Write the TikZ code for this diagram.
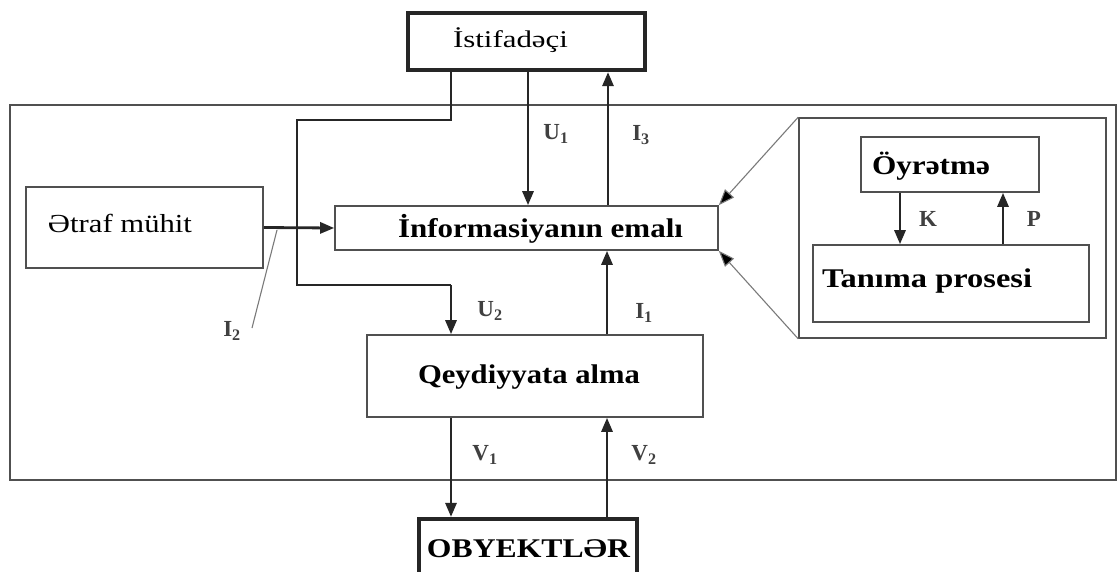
\documentclass[tikz,border=0pt]{standalone}
\usepackage{fontspec}
\setmainfont{Liberation Serif}
\usetikzlibrary{arrows.meta}
\definecolor{boxgray}{HTML}{505050}
\definecolor{linegray}{HTML}{262626}
\definecolor{thingray}{HTML}{7A7A7A}
\newcommand{\fitto}[3]{\resizebox{#1pt}{\height}{\fontsize{#2}{#2}\selectfont #3}}
\begin{document}
\begin{tikzpicture}[x=1pt,y=-1pt,
  box/.style={draw=boxgray, line width=1.6pt, inner sep=0pt, fill=white},
  thickbox/.style={draw=black!85, line width=4.2pt, inner sep=0pt, fill=white},
  frame/.style={draw=boxgray, line width=1.5pt},
  txt/.style={inner sep=0pt, anchor=base, text=black},
  lbl/.style={inner sep=0pt, text=black!75, font=\fontsize{23}{23}\selectfont\bfseries},
  arr/.style={draw=linegray, line width=2.8pt, -{Triangle[length=14pt,width=11pt]}},
  thinarr/.style={draw=thingray, line width=1.1pt, -{Triangle[length=16pt,width=12pt,fill=black]}},
  conn/.style={draw=linegray, line width=2.8pt},
  leader/.style={draw=thingray, line width=1.1pt}
]
\useasboundingbox (0,0) rectangle (1118,571);
\fill[white] (0,0) rectangle (1118,571);

% outer frame
\draw[frame] (10,105) rectangle (1116,480);

% boxes
\node[thickbox, minimum width=237pt, minimum height=57pt] (user) at (526.5,41.5) {};
\node[box, minimum width=383pt, minimum height=44pt] (info) at (526.5,228) {};
\node[box, minimum width=237pt, minimum height=81pt] (env) at (144.5,227.5) {};
\node[box, minimum width=336pt, minimum height=82pt] (reg) at (535,376) {};
\node[thickbox, minimum width=218pt, minimum height=70pt] (obj) at (528,554) {};
\node[box, minimum width=307pt, minimum height=220pt] (panel) at (952.5,228) {};
\node[box, minimum width=178pt, minimum height=55pt] (teach) at (950,164.5) {};
\node[box, minimum width=276pt, minimum height=77pt] (recog) at (951,283.5) {};

% texts
\node[txt] (userT) at (510.5,47) {\fitto{115}{24}{İstifadəçi}};
\node[txt] (infoT) at (540.5,237) {\fitto{285}{27}{\bfseries İnformasiyanın emalı}};
\node[txt] (envT) at (120,232) {\fitto{144}{26}{Ətraf mühit}};
\node[txt] (regT) at (529,383) {\fitto{222}{27}{\bfseries Qeydiyyata alma}};
\node[txt] (objT) at (528.5,557) {\fitto{203}{27}{\bfseries OBYEKTLƏR}};
\node[txt] (teachT) at (931,174) {\fitto{118}{27}{\bfseries Öyrətmə}};
\node[txt] (recogT) at (927,287) {\fitto{210}{27}{\bfseries Tanıma prosesi}};

% connector coordinates
\coordinate (xU1) at (528,0);
\coordinate (xI3) at (608,0);
\coordinate (xL) at (451,0);
\coordinate (xR) at (607,0);
\coordinate (xK) at (900,0);
\coordinate (xP) at (1003,0);
\coordinate (c1) at (451,120);
\coordinate (c2) at (297,120);
\coordinate (c3) at (297,285);
\coordinate (c4) at (451,285);
\coordinate (i2a) at (277,230);
\coordinate (i2b) at (252,328);

% connectors
\draw[arr] (user.south -| xU1) -- (info.north -| xU1);
\draw[arr] (info.north -| xI3) -- (user.south -| xI3);
\draw[conn] (user.south -| xL) -- (c1) -- (c2) -- (c3) -- (c4);
\draw[arr] (c4) -- (reg.north -| xL);
\draw[arr] (env.east) -- (info.west);
\draw[arr] (reg.north -| xR) -- (info.south -| xR);
\draw[arr] (reg.south -| xL) -- (obj.north -| xL);
\draw[arr] (obj.north -| xR) -- (reg.south -| xR);
\draw[arr] (teach.south -| xK) -- (recog.north -| xK);
\draw[arr] (recog.north -| xP) -- (teach.south -| xP);
\draw[thinarr] (panel.north west) -- (info.north east);
\draw[thinarr] (panel.south west) -- (info.south east);
\draw[leader] (i2a) -- (i2b);

% labels
\node[lbl] (U1) at (556,134) {U\textsubscript{1}};
\node[lbl] (I3) at (641,135) {I\textsubscript{3}};
\node[lbl] (U2) at (490,311) {U\textsubscript{2}};
\node[lbl] (I1) at (644,313) {I\textsubscript{1}};
\node[lbl] (V1) at (485,455) {V\textsubscript{1}};
\node[lbl] (V2) at (644,455) {V\textsubscript{2}};
\node[lbl] (I2) at (232,331) {I\textsubscript{2}};
\node[lbl] (K) at (928,219) {K};
\node[lbl] (P) at (1034,219) {P};
\end{tikzpicture}
\end{document}
